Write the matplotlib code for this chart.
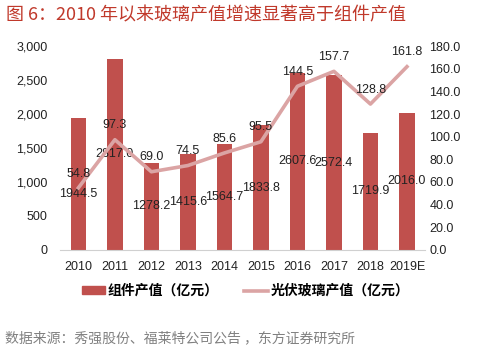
import matplotlib
matplotlib.use("Agg")
import matplotlib.pyplot as plt
from matplotlib.ticker import FuncFormatter, MultipleLocator
from matplotlib.lines import Line2D
from matplotlib.patches import Patch

plt.rcParams['font.family'] = ['Liberation Sans', 'Noto Sans CJK SC', 'DejaVu Sans']

years = ['2010', '2011', '2012', '2013', '2014', '2015', '2016', '2017', '2018', '2019E']
module_value = [1944.5, 2817.0, 1278.2, 1415.6, 1564.7, 1833.8, 2607.6, 2572.4, 1719.9, 2016.0]
glass_value = [54.8, 97.3, 69.0, 74.5, 85.6, 95.5, 144.5, 157.7, 128.8, 161.8]

bar_color = '#c0504d'
line_color = '#dba4a4'
# bar-label nudges (points) so a label clears the line label above it
bar_label_nudge = {'2010': -7}

fig = plt.figure(figsize=(4.81, 3.49), dpi=100)
ax = fig.add_axes([0.125, 0.284, 0.759, 0.584])
ax2 = ax.twinx()

x = list(range(len(years)))
ax.bar(x, module_value, width=0.42, color=bar_color, zorder=2)
ax.set_ylim(0, 3000)
ax.set_xlim(-0.5, len(years) - 0.5)
ax.yaxis.set_major_locator(MultipleLocator(500))
ax.yaxis.set_major_formatter(FuncFormatter(lambda v, p: f'{int(v):,}'))
ax.set_xticks(x)
ax.set_xticklabels(years)
for s in ['top', 'right', 'left']:
    ax.spines[s].set_visible(False)
ax.spines['bottom'].set_color('#d0d0d0')
ax.tick_params(axis='y', length=0, pad=9, labelsize=9, labelcolor='#222222')
ax.tick_params(axis='x', length=0, pad=8, labelsize=9, labelcolor='#222222')

for xi, yr, v in zip(x, years, module_value):
    ax.annotate(f'{v:.1f}', (xi, v / 2), xytext=(0, bar_label_nudge.get(yr, 0)),
                textcoords='offset points', ha='center', va='center', fontsize=9,
                color='#222222', zorder=5)

ax2.plot(x, glass_value, color=line_color, linewidth=2.6, zorder=3)
ax2.set_ylim(0, 180)
ax2.yaxis.set_major_locator(MultipleLocator(20))
ax2.yaxis.set_major_formatter(FuncFormatter(lambda v, p: f'{v:.1f}'))
for s in ['top', 'right', 'left', 'bottom']:
    ax2.spines[s].set_visible(False)
ax2.tick_params(axis='y', length=0, pad=3, labelsize=9, labelcolor='#222222')
for xi, v in zip(x, glass_value):
    ax2.annotate(f'{v:.1f}', (xi, v), xytext=(0, 6), textcoords='offset points',
                 ha='center', va='bottom', fontsize=9, color='#222222')

fig.text(0.012, 0.955, '图 6：2010 年以来玻璃产值增速显著高于组件产值', fontsize=13,
         color='#c0392b', ha='left', va='center', family=['Noto Sans CJK SC', 'DejaVu Sans'])

handles = [Patch(color=bar_color), Line2D([0], [0], color=line_color, linewidth=2.6)]
labels = ['组件产值（亿元）', '光伏玻璃产值（亿元）']
fig.legend(handles, labels, loc='center', bbox_to_anchor=(0.51, 0.166), ncol=2, frameon=False,
           prop={'family': ['Noto Sans CJK SC'], 'size': 10, 'weight': 'bold'},
           handlelength=1.7, handleheight=0.5, columnspacing=1.8, handletextpad=0.2)

fig.text(0.01, 0.03, '数据来源：秀强股份、福莱特公司公告 ，东方证券研究所', fontsize=10,
         color='#808080', ha='left', va='center', family=['Noto Sans CJK SC', 'DejaVu Sans'])

fig.savefig('out.png', dpi=100)
